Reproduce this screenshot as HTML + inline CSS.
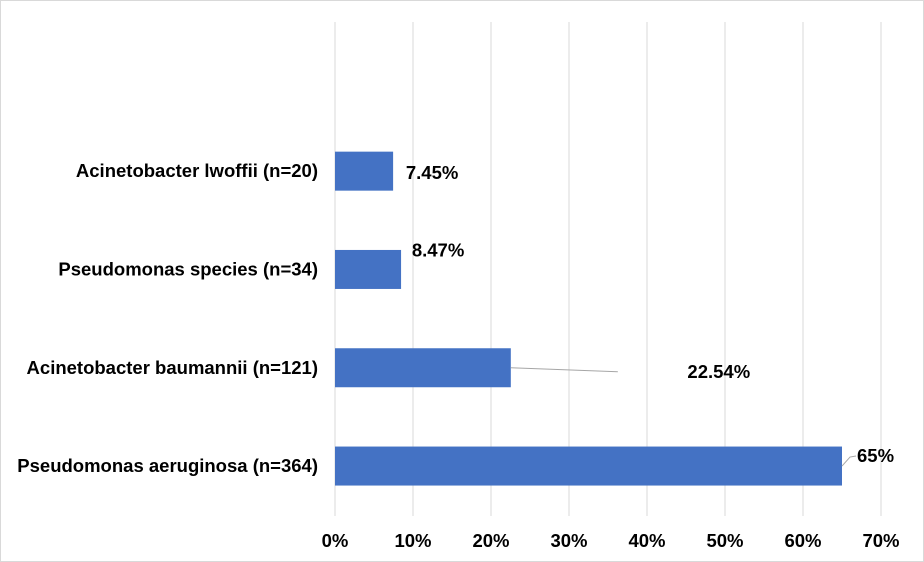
<!DOCTYPE html>
<html><head><meta charset="utf-8"><style>
html,body{margin:0;padding:0;background:#fff;}
svg{display:block;font-family:"Liberation Sans",Arial,sans-serif;}
</style></head><body>
<svg id="chart" width="924" height="562" viewBox="0 0 924 562">
<rect x="0.5" y="0.5" width="923" height="561" fill="#fff" stroke="#d9d9d9"/>
<g id="grid"></g><g id="bars"></g><g id="labels"></g><g id="ticks"></g>
</svg>
<script>
const categories=["Acinetobacter lwoffii (n=20)","Pseudomonas species (n=34)","Acinetobacter baumannii (n=121)","Pseudomonas aeruginosa (n=364)"];
const values=[7.45,8.47,22.54,65];
const valueLabels=["7.45%","8.47%","22.54%","65%"];
const tickValues=[0,10,20,30,40,50,60,70];
const tickLabels=["0%","10%","20%","30%","40%","50%","60%","70%"];
const NS="http://www.w3.org/2000/svg";
const x0=335,x1=881,vmax=70;
const xs=v=>x0+(v/vmax)*(x1-x0);
const yTop=122,band=98.3;
const yc=i=>yTop+band*(i+0.5);
function mk(t,a,p){const e=document.createElementNS(NS,t);for(const k in a)e.setAttribute(k,a[k]);p.appendChild(e);return e;}
const grid=document.getElementById('grid'),bars=document.getElementById('bars'),labels=document.getElementById('labels'),ticks=document.getElementById('ticks');
tickValues.forEach((v,i)=>{
 const l=mk('line',{x1:xs(v),x2:xs(v),y1:22,y2:516,stroke:'#d9d9d9','stroke-width':1},grid);
 
 
 const t=mk('text',{x:xs(v),y:547,'text-anchor':'middle','font-size':18.5,'font-weight':'bold',fill:'#000'},ticks);
 t.textContent=tickLabels[i];
 
 
});
const offs=[[39,2],[37,-19],[208,4],[15,-10]];
categories.forEach((c,i)=>{
 const y=yc(i),h=39;
 const r=mk('rect',{x:x0,y:y-h/2,width:xs(values[i])-x0,height:h,fill:'#4472c4'},bars);
 
 
 const ct=mk('text',{x:318,y:y+6,'text-anchor':'end','font-size':18.5,'font-weight':'bold',fill:'#000'},labels);
 ct.textContent=c;
 
 
 const ex=xs(values[i]);
 let lx=ex+offs[i][0],ly=y+offs[i][1];
 if(i===2){const ln=mk('line',{x1:ex,y1:y,x2:ex+107,y2:y+4,stroke:'#a6a6a6','stroke-width':1},labels);}
 if(i===3){const ln=mk('polyline',{points:`${ex},${y} ${ex+8},${y-9} ${ex+14},${y-10}`,fill:'none',stroke:'#a6a6a6','stroke-width':1},labels);}
 const vt=mk('text',{x:lx,y:ly+6,'text-anchor':'middle','font-size':18.5,'font-weight':'bold',fill:'#000'},labels);
 if(i===3)vt.setAttribute('x',ex+15),vt.setAttribute('text-anchor','start');
 vt.textContent=valueLabels[i];
 
 
});
</script>
</body></html>
